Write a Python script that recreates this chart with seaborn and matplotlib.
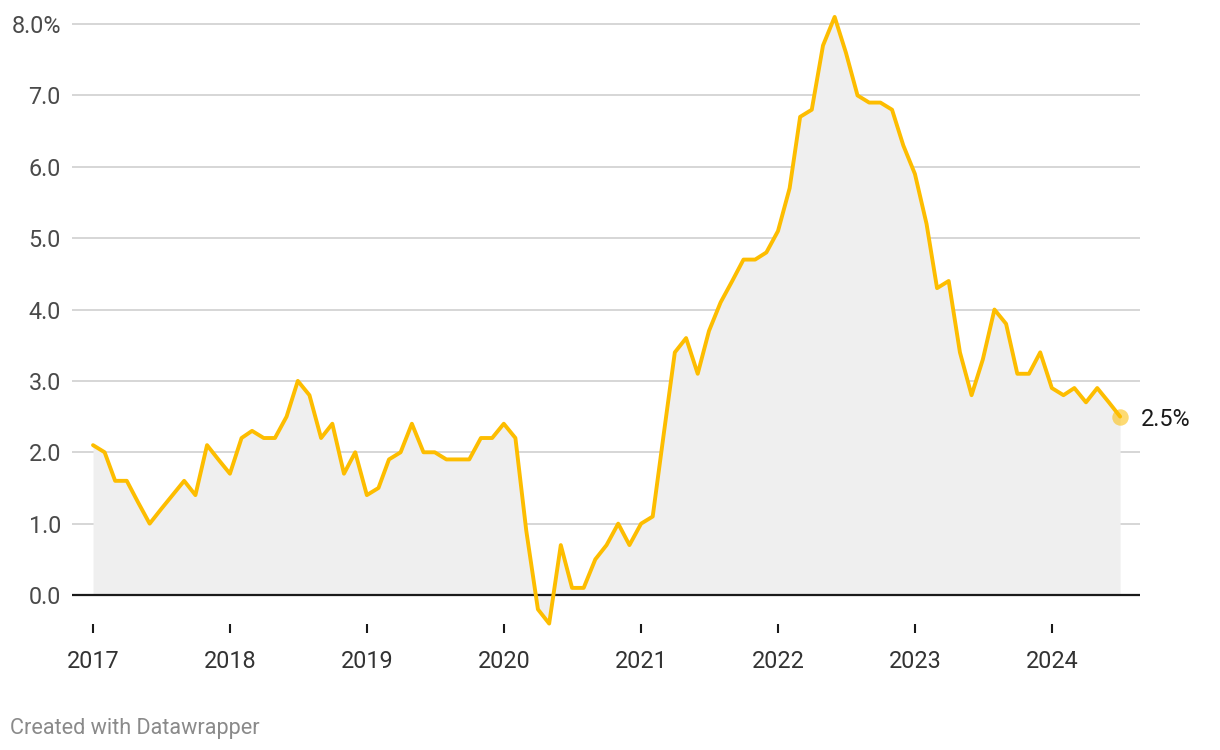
"""Inflationsrate (Jahresveraenderung in %), monatlich 2017 bis Juli 2024."""
import pandas as pd
import matplotlib
matplotlib.use("Agg")
import matplotlib.pyplot as plt
import matplotlib.dates as mdates
import seaborn as sns

# Monatswerte, Jan 2017 - Jul 2024
start_month = "2017-01-01"
rate_2017 = [2.1, 2.0, 1.6, 1.6, 1.3, 1.0, 1.2, 1.4, 1.6, 1.4, 2.1, 1.9]
rate_2018 = [1.7, 2.2, 2.3, 2.2, 2.2, 2.5, 3.0, 2.8, 2.2, 2.4, 1.7, 2.0]
rate_2019 = [1.4, 1.5, 1.9, 2.0, 2.4, 2.0, 2.0, 1.9, 1.9, 1.9, 2.2, 2.2]
rate_2020 = [2.4, 2.2, 0.9, -0.2, -0.4, 0.7, 0.1, 0.1, 0.5, 0.7, 1.0, 0.7]
rate_2021 = [1.0, 1.1, 2.2, 3.4, 3.6, 3.1, 3.7, 4.1, 4.4, 4.7, 4.7, 4.8]
rate_2022 = [5.1, 5.7, 6.7, 6.8, 7.7, 8.1, 7.6, 7.0, 6.9, 6.9, 6.8, 6.3]
rate_2023 = [5.9, 5.2, 4.3, 4.4, 3.4, 2.8, 3.3, 4.0, 3.8, 3.1, 3.1, 3.4]
rate_2024 = [2.9, 2.8, 2.9, 2.7, 2.9, 2.7, 2.5]

year_ticks = [2017, 2018, 2019, 2020, 2021, 2022, 2023, 2024]
y_ticks = [0, 1, 2, 3, 4, 5, 6, 7, 8]
y_tick_labels = ["0.0", "1.0", "2.0", "3.0", "4.0", "5.0", "6.0", "7.0", "8.0%"]
footer = "Created with Datawrapper"

values = rate_2017 + rate_2018 + rate_2019 + rate_2020 + rate_2021 + rate_2022 + rate_2023 + rate_2024
df = pd.DataFrame({
    "date": pd.date_range(start_month, periods=len(values), freq="MS"),
    "rate": values,
})

LINE = "#fdbd00"
FILL = "#efefef"
GRID = "#d6d6d6"

sns.set_theme(style="white")
plt.rcParams["font.family"] = ["Roboto", "DejaVu Sans"]

W, H = 1220, 750
fig = plt.figure(figsize=(W / 100, H / 100), dpi=100)

# Achsen in Pixeln platzieren
left_px, right_px = 72, 1140
top_px, bottom_px = 13, 624
ax = fig.add_axes([left_px / W, 1 - bottom_px / H,
                   (right_px - left_px) / W, (bottom_px - top_px) / H])

first, last = df["date"].iloc[0], df["date"].iloc[-1]
ax.set_xlim(first - pd.Timedelta(days=56), last + pd.Timedelta(days=53))
ax.set_ylim(-0.406, 8.155)

# Gitter
for t in y_ticks[1:]:
    ax.axhline(t, color=GRID, lw=1.4, zorder=0)
ax.axhline(0, color="#1a1a1a", lw=1.6, zorder=3)

ax.fill_between(df["date"], df["rate"], 0, color=FILL, lw=0, zorder=1)
sns.lineplot(data=df, x="date", y="rate", color=LINE, lw=2.8, ax=ax,
             zorder=4, clip_on=False)
ax.scatter([last], [df["rate"].iloc[-1]], s=140, color=LINE, alpha=0.55,
           lw=0, zorder=5, clip_on=False)
ax.annotate(f"{df['rate'].iloc[-1]:.1f}%", (last, df["rate"].iloc[-1]),
            xytext=(15, -2), textcoords="offset points", va="center",
            ha="left", fontsize=16.8, color="#1a1a1a", annotation_clip=False)

for s in ax.spines.values():
    s.set_visible(False)

ax.set_yticks(y_ticks)
ax.set_yticklabels(y_tick_labels)
ax.tick_params(axis="y", length=0, pad=8, labelsize=16.8, labelcolor="#4a4a4a")

ax.set_xticks([pd.Timestamp(f"{y}-01-01") for y in year_ticks])
ax.xaxis.set_major_formatter(mdates.DateFormatter("%Y"))
ax.tick_params(axis="x", direction="out", length=6.5, width=1.5,
               color="#1a1a1a", pad=12.5, labelsize=16.8, labelcolor="#333333")
ax.xaxis.set_ticks_position("bottom")

ax.set_xlabel("")
ax.set_ylabel("")

fig.text(10 / W, 1 - 728.5 / H, footer, fontsize=15.6, color="#8a8a8a",
         ha="left", va="center")

fig.savefig("out.png", dpi=100)
